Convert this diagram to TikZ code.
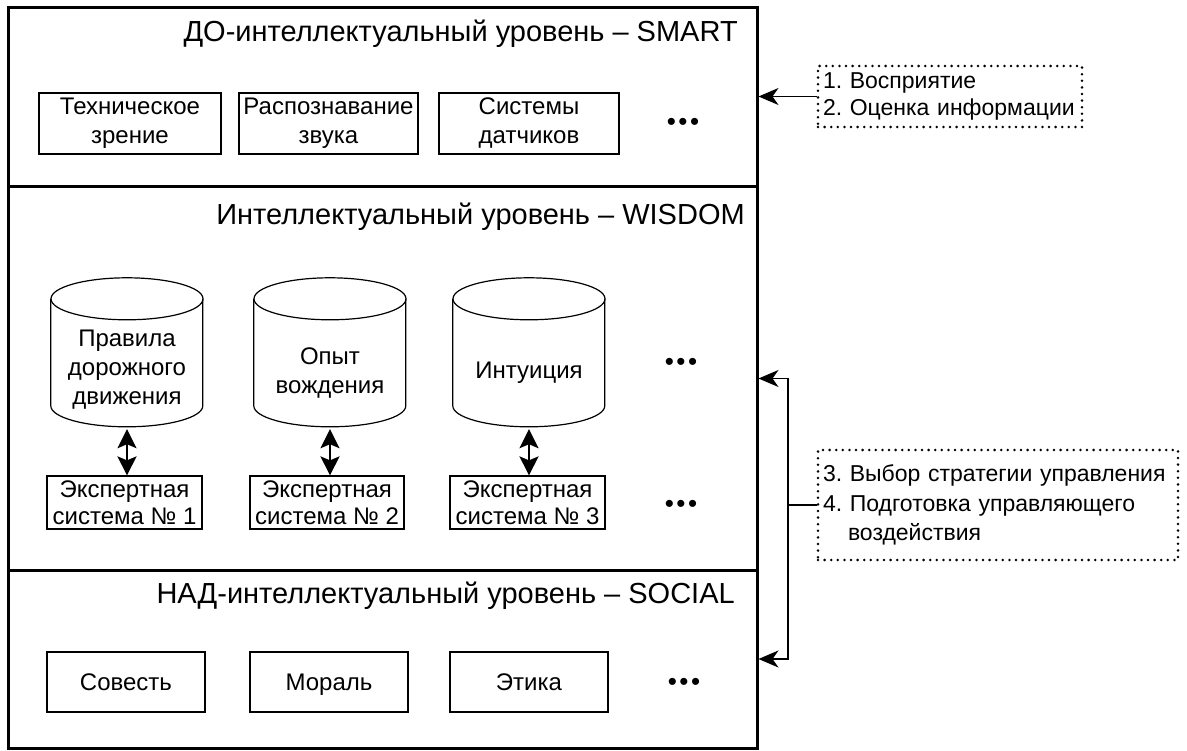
\documentclass[tikz,border=0pt]{standalone}
\usepackage{fontspec}
\setmainfont{Liberation Sans}
\usetikzlibrary{arrows.meta}
\frenchspacing
\begin{document}
\begin{tikzpicture}[x=1pt,y=-1pt,
  every node/.style={font=\fontsize{24}{29}\selectfont},
  level/.style={draw, line width=3pt, minimum width=749pt, inner sep=0pt},
  title/.style={anchor=base east, font=\fontsize{29}{34}\selectfont, inner sep=0pt},
  box/.style={draw, line width=1.2pt, align=center, inner sep=0pt},
  onebox/.style={box, text height=17pt, text depth=-6pt},
  cylbody/.style={draw=none, minimum width=152pt, minimum height=149pt, inner sep=0pt},
  dotbox/.style={draw, line width=2.8pt, dash pattern=on 0pt off 6.6pt, line cap=round, align=left, inner xsep=5pt, inner ysep=0pt},
  dotsnode/.style={font=\fontsize{26}{26}\selectfont, inner sep=0pt},
  conn/.style={line width=1.2pt, -{Stealth[length=20pt,width=17pt,inset=6pt]}},
  dbl/.style={line width=2.4pt, {Stealth[length=19pt,width=19pt,inset=4pt]}-{Stealth[length=19pt,width=19pt,inset=4pt]}},
  cyl/.style={line width=1.2pt}
]
\useasboundingbox (0,0) rectangle (1187,751);

% levels
\node[level, minimum height=179pt] (smart) at (382.5,97.5) {};
\node[level, minimum height=383pt] (wisdom) at (382.5,378.5) {};
\node[level, minimum height=178pt] (social) at (382.5,659) {};

\node[title] (tsmart) at (738,42) {ДО-интеллектуальный уровень – SMART};
\node[title] (twisdom) at (745,225) {Интеллектуальный уровень – WISDOM};
\node[title] (tsocial) at (735,603) {НАД-интеллектуальный уровень – SOCIAL};

% SMART boxes
\node[box, minimum width=182pt, minimum height=61pt] (s1) at (130,123.5) {Техническое\\зрение};
\node[box, minimum width=179pt, minimum height=61pt] (s2) at (328.5,123.5) {Распознавание\\звука};
\node[box, minimum width=180pt, minimum height=61pt] (s3) at (529,123.5) {Системы\\датчиков};
\node[dotsnode] (sd) at (683,124) {•\kern2.5pt•\kern2.5pt•};

% WISDOM cylinders
\foreach \n/\cx in {c1/127,c2/330,c3/529}{
  \node[cylbody] (\n) at (\cx,352.5) {};
  \draw[cyl] (\n.north west) ++(0,21) -- ++(0,107)
     arc[start angle=180,end angle=360,x radius=76,y radius=-21] -- ++(0,-107);
  \draw[cyl] ([yshift=-21]\n.north) ellipse[x radius=76,y radius=21];
}
\node[align=center] (c1t) at (127,370) {Правила\\дорожного\\движения};
\node[align=center] (c2t) at (330,373) {Опыт\\вождения};
\node[align=center] (c3t) at (529,373) {Интуиция};

\node[box, minimum width=155pt, minimum height=53pt, font=\fontsize{24}{27}\selectfont] (e1) at (124.5,502.5) {Экспертная\\система № 1};
\node[box, minimum width=154pt, minimum height=53pt, font=\fontsize{24}{27}\selectfont] (e2) at (327,502.5) {Экспертная\\система № 2};
\node[box, minimum width=155pt, minimum height=53pt, font=\fontsize{24}{27}\selectfont] (e3) at (527.5,502.5) {Экспертная\\система № 3};

\draw[dbl] ([yshift=-2]c1.south) -- (c1.south |- e1.north);
\draw[dbl] ([yshift=-2]c2.south) -- (c2.south |- e2.north);
\draw[dbl] ([yshift=-2]c3.south) -- (c3.south |- e3.north);

\node[dotsnode] (wd1) at (681,364) {•\kern2.5pt•\kern2.5pt•};
\node[dotsnode] (wd2) at (681,506) {•\kern2.5pt•\kern2.5pt•};

% SOCIAL boxes
\node[onebox, minimum width=158pt, minimum height=60pt] (o1) at (126,682) {Совесть};
\node[onebox, minimum width=158pt, minimum height=60pt] (o2) at (329,682) {Мораль};
\node[onebox, minimum width=158pt, minimum height=60pt] (o3) at (529,682) {Этика};
\node[dotsnode] (od) at (684,684) {•\kern2.5pt•\kern2.5pt•};

% right side notes
\node[dotbox, text width=254pt, minimum height=61pt, font=\fontsize{23}{27}\selectfont] (d1) at (950,96.5)
  {1. Восприятие\\2. Оценка информации};
\node[dotbox, text width=350pt, minimum height=110pt, font=\fontsize{23}{29.5}\selectfont] (d2) at (998,505)
  {3. Выбор стратегии управления\\4. Подготовка управляющего\\\hspace*{25pt}воздействия};

\draw[conn] (d1.west) -- (d1.west -| smart.east);
\coordinate (j) at (788,505);
\draw[line width=1.2pt] (d2.west) -- (j);
\draw[conn] (j) |- (wisdom.east);
\draw[conn] (j) |- (social.east);
\end{tikzpicture}
\end{document}
